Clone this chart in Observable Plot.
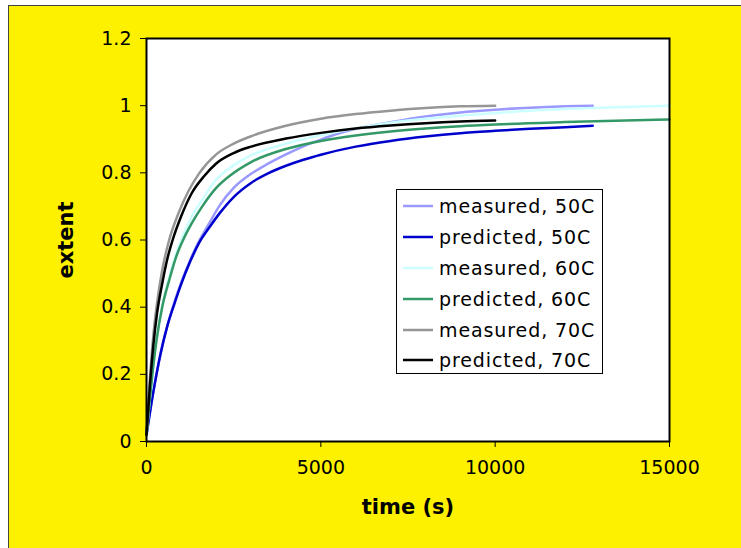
<!DOCTYPE html>
<html>
<head>
<meta charset="utf-8">
<script src="https://cdn.jsdelivr.net/npm/d3@7"></script>
<script src="https://cdn.jsdelivr.net/npm/@observablehq/plot@0.6"></script>
<style>
  html, body { margin: 0; padding: 0; background: #ffffff; }
  #wrap { position: relative; width: 741px; height: 548px; overflow: hidden; }
  #bg { position: absolute; left: 8px; top: 5px; right: 0; bottom: 0; background: #fdf100;
        border-left: 1px solid #444; border-top: 1px solid #444; }
  #chart { position: absolute; left: 0; top: 0; }
  #chart svg { background: transparent; }
  #legend { position: absolute; left: 396px; top: 189px; width: 207px; height: 185px; box-sizing: border-box;
            border: 1px solid #000; background: #fff; padding-top: 1px;
            font-family: "DejaVu Sans", Verdana, sans-serif; font-size: 19px; color: #000; }
  .row { height: 30.8px; display: flex; align-items: center; }
  .row svg { margin-left: 6px; margin-right: 6px; flex: none; }
  .row span { letter-spacing: 0.9px; white-space: nowrap; }
</style>
</head>
<body>
<div id="wrap">
  <div id="bg"></div>
  <div id="chart"></div>
  <div id="legend"></div>
</div>
<script>
// Series names and colours (legend order)
const seriesNames = ["measured, 50C", "predicted, 50C", "measured, 60C", "predicted, 60C", "measured, 70C", "predicted, 70C"];
const seriesColors = ["#9999ff", "#0000cc", "#ccffff", "#339966", "#969696", "#000000"];

// measured, 50C
const tMeas50 = [0, 200, 400, 600, 800, 1000, 1250, 1500, 1800, 2100, 2500, 3000, 3500, 4000, 4500, 5000, 5500, 6000, 7000, 8000, 9000, 10000, 11000, 12000, 12800];
const vMeas50 = [0.02, 0.15, 0.26, 0.345, 0.415, 0.475, 0.54, 0.595, 0.65, 0.703, 0.755, 0.797, 0.828, 0.855, 0.879, 0.899, 0.917, 0.931, 0.951, 0.968, 0.980, 0.988, 0.994, 0.998, 1.0];
// predicted, 50C
const tPred50 = [0, 200, 400, 600, 800, 1000, 1250, 1500, 1800, 2100, 2500, 3000, 3500, 4000, 4500, 5000, 6000, 7000, 8000, 9000, 10000, 11000, 12000, 12800];
const vPred50 = [0.02, 0.15, 0.26, 0.345, 0.41, 0.47, 0.535, 0.59, 0.637, 0.68, 0.728, 0.77, 0.799, 0.821, 0.839, 0.854, 0.878, 0.895, 0.908, 0.918, 0.925, 0.931, 0.936, 0.94];
// measured, 60C
const tMeas60 = [0, 100, 200, 300, 450, 650, 850, 1050, 1300, 1600, 2000, 2400, 3000, 4000, 5000, 6000, 7000, 8000, 9000, 10000, 11000, 12000, 13000, 14000, 15000];
const vMeas60 = [0.02, 0.13, 0.23, 0.315, 0.405, 0.49, 0.56, 0.615, 0.67, 0.72, 0.78, 0.815, 0.852, 0.887, 0.912, 0.932, 0.949, 0.961, 0.970, 0.978, 0.985, 0.990, 0.994, 0.997, 1.0];
// predicted, 60C
const tPred60 = [0, 100, 200, 300, 450, 650, 850, 1050, 1300, 1600, 2000, 2400, 3000, 4000, 5000, 6000, 7000, 8000, 9000, 10000, 12000, 15000];
const vPred60 = [0.02, 0.13, 0.23, 0.31, 0.40, 0.48, 0.55, 0.60, 0.65, 0.70, 0.755, 0.792, 0.832, 0.871, 0.895, 0.911, 0.923, 0.932, 0.939, 0.944, 0.951, 0.959];
// measured, 70C
const tMeas70 = [0, 100, 200, 300, 450, 650, 900, 1200, 1500, 2000, 2500, 3000, 4000, 5000, 6000, 7000, 8000, 9000, 10000];
const vMeas70 = [0.02, 0.19, 0.32, 0.41, 0.51, 0.60, 0.675, 0.745, 0.797, 0.855, 0.887, 0.909, 0.94, 0.961, 0.975, 0.985, 0.993, 0.998, 1.0];
// predicted, 70C
const tPred70 = [0, 100, 200, 300, 450, 600, 750, 1000, 1300, 1650, 2000, 2500, 3000, 4000, 5000, 6000, 7000, 8000, 9000, 10000];
const vPred70 = [0.02, 0.17, 0.29, 0.38, 0.47, 0.545, 0.60, 0.672, 0.74, 0.79, 0.828, 0.859, 0.878, 0.902, 0.919, 0.932, 0.941, 0.948, 0.953, 0.956];

const xTicks = [0, 5000, 10000, 15000];
const yTicks = [0, 0.2, 0.4, 0.6, 0.8, 1.0, 1.2];

const seriesT = [tMeas50, tPred50, tMeas60, tPred60, tMeas70, tPred70];
const seriesV = [vMeas50, vPred50, vMeas60, vPred60, vMeas70, vPred70];

const data = [];
seriesNames.forEach((name, i) => {
  seriesT[i].forEach((t, j) => data.push({series: name, t, v: seriesV[i][j]}));
});

const font = "DejaVu Sans, Verdana, sans-serif";

const chart = Plot.plot({
  width: 741,
  height: 548,
  marginLeft: 146,
  marginRight: 72,
  marginTop: 38,
  marginBottom: 107,
  style: {background: "transparent", fontFamily: font, fontSize: "19px", color: "#000"},
  x: {domain: [0, 15000], ticks: xTicks, tickFormat: d => String(d), label: null},
  y: {domain: [0, 1.2], ticks: yTicks, tickFormat: d => String(+d.toFixed(1)), label: null},
  color: {domain: seriesNames, range: seriesColors},
  marks: [
    Plot.frame({fill: "white", stroke: null}),
    Plot.line(data, {x: "t", y: "v", z: "series", stroke: "series", strokeWidth: 2.5, curve: "monotone-x"}),
    Plot.frame({stroke: "#000", strokeWidth: 2}),
    Plot.axisX({ticks: xTicks, tickFormat: d => String(d), tickSize: 6, tickPadding: 13, label: null, fontSize: 19, stroke: "#000"}),
    Plot.axisY({ticks: yTicks, tickFormat: d => String(+d.toFixed(1)), tickSize: 6, tickPadding: 9, label: null, fontSize: 19, stroke: "#000"}),
    Plot.text(["time (s)"], {frameAnchor: "bottom", dy: 66, lineAnchor: "middle", textAnchor: "middle", fontWeight: "bold", fontSize: 21, fill: "#000"}),
    Plot.text(["extent"], {frameAnchor: "left", dx: -80, rotate: -90, lineAnchor: "middle", textAnchor: "middle", fontWeight: "bold", fontSize: 21, fill: "#000"})
  ]
});
document.getElementById("chart").appendChild(chart);

// Legend
const legend = document.getElementById("legend");
seriesNames.forEach((name, i) => {
  const row = document.createElement("div");
  row.className = "row";
  row.innerHTML = `<svg width="30" height="4"><line x1="0" y1="2" x2="30" y2="2" stroke="${seriesColors[i]}" stroke-width="2.5"/></svg><span>${name}</span>`;
  legend.appendChild(row);
});
</script>
</body>
</html>
